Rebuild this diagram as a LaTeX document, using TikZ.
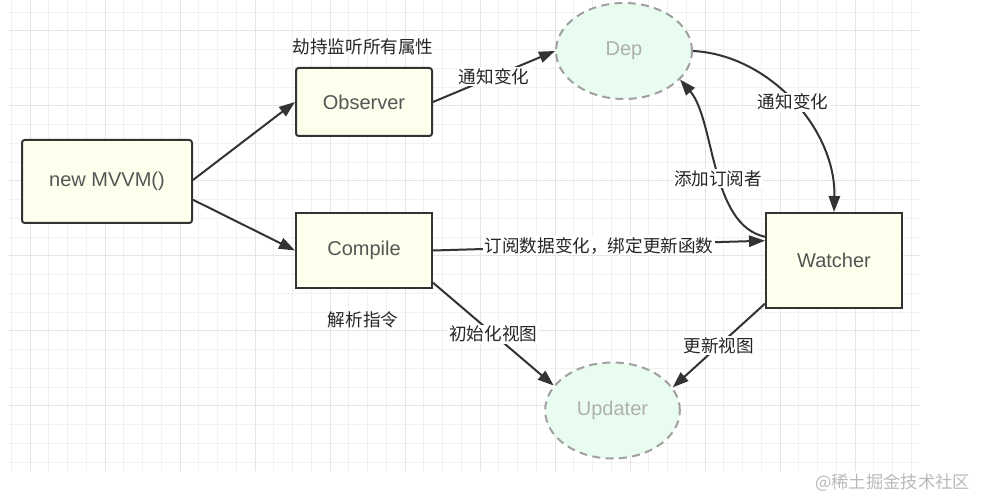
\documentclass[tikz,border=0pt]{standalone}
\usepackage{fontspec}
\setmainfont{Liberation Sans}
\newfontfamily\cjk{Noto Sans CJK SC}
\usetikzlibrary{shapes.geometric,arrows.meta}

\definecolor{boxfill}{RGB}{255,255,238}
\definecolor{boxline}{RGB}{51,51,51}
\definecolor{mint}{RGB}{232,252,240}
\definecolor{dashgray}{RGB}{160,160,160}
\definecolor{txtgray}{RGB}{85,85,85}
\definecolor{ghost}{RGB}{175,175,175}
\definecolor{gridminor}{RGB}{241,241,241}
\definecolor{gridmajor}{RGB}{229,229,229}
\definecolor{markgray}{RGB}{185,185,185}

\tikzset{
  box/.style={draw=boxline, fill=boxfill, line width=1.5pt, inner sep=0pt,
    text=txtgray, font=\fontsize{15}{18}\selectfont},
  bubble/.style={ellipse, draw=dashgray, fill=mint, dash pattern=on 6pt off 4pt,
    line width=1.5pt, inner sep=0pt, text=ghost, font=\fontsize{15}{18}\selectfont},
  link/.style={draw=boxline, line width=1.5pt, -{Triangle[length=12pt,width=8.5pt]}},
  tag/.style={font=\cjk\fontsize{13.2}{16}\selectfont, text=black!85, fill=white, inner sep=1pt},
}

\begin{document}
\begin{tikzpicture}[x=0.75pt,y=0.75pt,yscale=-1]
\useasboundingbox (0,0) rectangle (982,498);

%Grid
\foreach \gx in {0,...,48}
  \draw[gridminor, line width=0.75pt] ({11.25+18.75*\gx},0) -- ({11.25+18.75*\gx},471);
\foreach \gy in {0,...,24}
  \draw[gridminor, line width=0.75pt] (8,{12.25+18.75*\gy}) -- (920,{12.25+18.75*\gy});
\foreach \gx in {0,...,11}
  \draw[gridmajor, line width=0.75pt] ({30+75*\gx},0) -- ({30+75*\gx},471);
\foreach \gy in {0,...,5}
  \draw[gridmajor, line width=0.75pt] (8,{31+75*\gy}) -- (920,{31+75*\gy});

%Shape: Rectangle
\node[box, rounded corners=2pt, minimum width=127.5pt, minimum height=62.25pt] (mvvm) at (107,181.5) {new MVVM()};
%Shape: Rectangle
\node[box, rounded corners=2pt, minimum width=102pt, minimum height=51pt] (obs) at (364,102) {Observer};
%Shape: Rectangle
\node[box, minimum width=102pt, minimum height=56.25pt] (cmp) at (364,250.5) {Compile};
%Shape: Rectangle
\node[box, minimum width=102pt, minimum height=71.25pt] (wat) at (834,260.5) {Watcher};
%Shape: Ellipse
\node[bubble, minimum width=102pt, minimum height=72pt] (dep) at (624,51) {Dep};
%Shape: Ellipse
\node[bubble, minimum width=101pt, minimum height=72pt] (upd) at (612.5,410.5) {Updater};

% Text Node
\node[tag, fill=none] (obstext) at (363,47) {劫持监听所有属性};
% Text Node
\node[tag, fill=none] (cmptext) at (363,320) {解析指令};

%Straight Lines
\draw[link] (mvvm.1) -- (obs.west);
\draw[link] (mvvm.-12) -- (cmp.west);
\draw[link] (obs.east) -- node[tag] {通知变化} (dep.west);
\draw[link] (cmp.east) -- node[tag] {订阅数据变化，绑定更新函数} (wat.164);
\draw[link] (cmp.-25) -- node[tag] {初始化视图} (upd.157);
\draw[link] (wat.212) -- node[tag] {更新视图} (upd.21);

%Curve Lines
\draw[link] (dep.east) .. controls (770,55) and (836,130) .. node[tag, pos=0.5] {通知变化} (wat.north);
\draw[link] (wat.161) .. controls (710,225) and (715,120) .. node[tag, pos=0.45] {添加订阅者} (dep.-27);

% Text Node
\node[anchor=east, font=\cjk\fontsize{13}{15}\selectfont, text=markgray] (mark) at (975,483) {@稀土掘金技术社区};

\end{tikzpicture}
\end{document}
